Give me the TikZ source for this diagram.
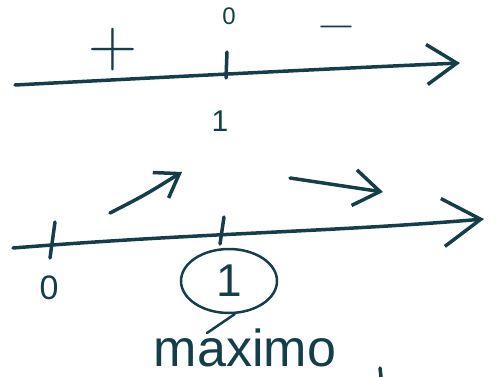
\documentclass[tikz,border=0pt]{standalone}
\usepackage{fontspec}
\setmainfont{Liberation Sans}
\newfontfamily\lmfont{Latin Modern Roman}
\usetikzlibrary{arrows.meta,shapes.geometric}
\definecolor{ink}{RGB}{22,62,74}
\begin{document}
\begin{tikzpicture}[x=1pt, y=-1pt,
    ink/.style={draw=ink, line width=3.5pt, line cap=round, line join=round},
    lab/.style={text=ink, inner sep=0pt}]
    \useasboundingbox (0,0) rectangle (500,377);
    % upper line: signs
    \coordinate (u0) at (15,85);
    \coordinate (u1) at (460,63);
    \draw[ink, -{Straight Barb[length=30pt,width=40pt]}] (u0) .. controls (150,78) and (300,70) .. (u1);
    \draw[ink] (227,52) -- (226,78);
    \node[lab, font=\fontsize{24}{24}\selectfont] (zu) at (229,16) {0};
    \node[lab, font=\lmfont\fontsize{68}{68}\selectfont] (plus) at (113,50) {+};
    \node[lab, anchor=base, font=\lmfont\fontsize{50}{50}\selectfont] (minus) at (336,40) {−};
    \node[lab, font=\fontsize{30}{30}\selectfont] (ou) at (220,121) {1};
    % lower line: growth
    \coordinate (l0) at (13,248);
    \coordinate (l1) at (484,219);
    \draw[ink, -{Straight Barb[length=38pt,width=48pt]}] (l0) .. controls (200,233) and (330,232) .. (l1);
    \draw[ink] (55,222) -- (50,258);
    \draw[ink] (224,217) -- (220,244);
    \coordinate (up0) at (110,213);
    \coordinate (up1) at (182,172);
    \draw[ink, -{Straight Barb[length=22pt,width=30pt]}] (up0) .. controls (145,195) .. (up1);
    \coordinate (dn0) at (290,178);
    \coordinate (dn1) at (383,192);
    \draw[ink, -{Straight Barb[length=26pt,width=36pt]}] (dn0) -- (dn1);
    \node[lab, font=\fontsize{34}{34}\selectfont] (zl) at (49,288) {0};
    \node[lab, draw=ink, line width=2.5pt, ellipse, minimum width=96pt, minimum height=64pt,
          font=\fontsize{46}{46}\selectfont] (ol) at (229,281) {1};
    % maximum
    \node[lab, anchor=base, font=\fontsize{52}{52}\selectfont] (maxw) at (245,366) {maximo};
    \coordinate (tail) at (207,333);
    \draw[ink, line width=2.5pt] (ol.280) -- (tail);
    \draw[ink] (380,368) -- (381,377);
\end{tikzpicture}
\end{document}
